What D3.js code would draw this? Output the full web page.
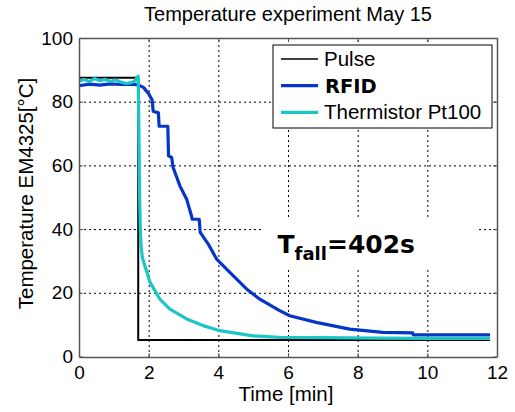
<!DOCTYPE html>
<html>
<head>
<meta charset="utf-8">
<script src="https://cdn.jsdelivr.net/npm/d3@7"></script>
<style>
  body { margin: 0; background: #fff; }
  text { font-family: "Liberation Sans", Arial, sans-serif; fill: #000; }
  .grid line { stroke: #000; stroke-width: 1; stroke-dasharray: 2,3; }
  .grid path { display: none; }
</style>
</head>
<body>
<div class="chart"></div>
<script>
// data (time in minutes, temperature in °C)
var pulseTime = [0, 1.7, 1.7, 11.8];
var pulseTemp = [87.5, 87.5, 5.2, 5.2];

var rfidTime = [0, 0.3, 0.6, 0.9, 1.2, 1.5, 1.7, 1.85, 2.0, 2.1, 2.13, 2.28, 2.30, 2.55, 2.57, 2.66, 2.70, 2.9, 3.09, 3.23, 3.25, 3.45, 3.48, 3.71, 3.95, 4.33, 4.81, 5.19, 5.76, 6.05, 6.81, 7.77, 8.72, 9.58, 9.6, 11.8];
var rfidTemp = [85.0, 85.5, 85.2, 85.6, 85.4, 85.5, 85.3, 84.5, 82.5, 80.5, 77, 76.5, 72.3, 72.3, 63, 62.5, 59.4, 53.5, 49.4, 44.1, 43.1, 43.1, 39, 35.3, 30.6, 26.4, 21.2, 18, 14.4, 12.8, 10.7, 8.6, 7.6, 7.4, 6.8, 6.8];

var thermTime = [0, 0.15, 0.3, 0.45, 0.6, 0.75, 0.9, 1.05, 1.2, 1.35, 1.5, 1.6, 1.7, 1.72, 1.74, 1.76, 1.78, 1.82, 1.89, 2.04, 2.32, 2.61, 3.09, 3.56, 4.04, 5.0, 5.76, 7, 8.5, 10, 11.8];
var thermTemp = [86.5, 87, 86.3, 87.3, 86.6, 87, 86.4, 86.8, 86.2, 85.7, 86.0, 86.5, 88, 70, 50, 40, 35, 31, 28.5, 23.3, 18, 14.9, 11.8, 9.7, 8.1, 6.5, 6.0, 5.9, 5.8, 5.7, 5.7];

var xTicks = [0, 2, 4, 6, 8, 10, 12];
var yTicks = [0, 20, 40, 60, 80, 100];
var seriesNames = ["Pulse", "RFID", "Thermistor Pt100"];
var seriesColors = ["#000000", "#0636c6", "#1cc6c6"];

var margin = {top: 38, right: 18, bottom: 55, left: 79}
  , width = 515 - margin.left - margin.right
  , height = 412 - margin.top - margin.bottom;

var xScale = d3.scaleLinear().domain([0, 12]).range([0, width]);
var yScale = d3.scaleLinear().domain([0, 100]).range([height - 0.5, 0]);

var svg = d3.select(".chart").append("svg")
    .attr("width", 515)
    .attr("height", 412)
  .append("g")
    .attr("transform", "translate(" + margin.left + "," + margin.top + ")");

// title
svg.append("text")
    .attr("x", width / 2)
    .attr("y", -17)
    .attr("text-anchor", "middle")
    .style("font-size", "20px")
    .text("Temperature experiment May 15");

// dotted grid
svg.append("g")
    .attr("class", "grid")
    .attr("transform", "translate(0," + height + ")")
    .call(d3.axisBottom(xScale).tickValues(xTicks.slice(1, -1)).tickSize(-height).tickFormat(""));
svg.append("g")
    .attr("class", "grid")
    .call(d3.axisLeft(yScale).tickValues(yTicks.slice(1, -1)).tickSize(-width).tickFormat(""));

// white box behind annotation
svg.append("rect")
    .attr("x", xScale(5.3)).attr("y", yScale(43))
    .attr("width", xScale(11.45) - xScale(5.3))
    .attr("height", yScale(28) - yScale(43))
    .attr("fill", "#fff");

// lines
var line = d3.line()
    .x(function(d) { return xScale(d[0]); })
    .y(function(d) { return yScale(d[1]); });

var series = [
  {t: pulseTime, v: pulseTemp, w: 2},
  {t: rfidTime, v: rfidTemp, w: 3.2},
  {t: thermTime, v: thermTemp, w: 3.2}
];
series.forEach(function(s, i) {
  svg.append("path")
      .datum(d3.zip(s.t, s.v))
      .attr("fill", "none")
      .attr("stroke", seriesColors[i])
      .attr("stroke-width", s.w)
      .attr("stroke-linejoin", "round")
      .attr("d", line);
});

// axes frame with inward ticks
function styleAxis(g) {
  g.select(".domain").attr("stroke", "#555").attr("stroke-width", 1.5);
  g.selectAll(".tick line").attr("stroke", "#555");
  g.selectAll(".tick text").style("font-size", "19px").attr("fill", "#000");
}
svg.append("g")
    .attr("transform", "translate(0," + height + ")")
    .call(d3.axisBottom(xScale).tickValues(xTicks).tickSizeInner(-4).tickSizeOuter(0).tickPadding(9))
    .call(styleAxis);
svg.append("g")
    .call(d3.axisLeft(yScale).tickValues(yTicks).tickSizeInner(-4).tickSizeOuter(0).tickPadding(6))
    .call(styleAxis);
svg.append("g")
    .call(d3.axisTop(xScale).tickValues(xTicks).tickSizeInner(-4).tickSizeOuter(0).tickFormat(""))
    .call(styleAxis);
svg.append("g")
    .attr("transform", "translate(" + width + ",0)")
    .call(d3.axisRight(yScale).tickValues(yTicks).tickSizeInner(-4).tickSizeOuter(0).tickFormat(""))
    .call(styleAxis);

// axis labels
svg.append("text")
    .attr("x", width / 2 - 2)
    .attr("y", height + 44)
    .attr("text-anchor", "middle")
    .style("font-size", "20.5px")
    .text("Time [min]");
svg.append("text")
    .attr("transform", "translate(" + (-46) + "," + (height / 2 - 4) + ") rotate(-90)")
    .attr("text-anchor", "middle")
    .style("font-size", "20.5px")
    .text("Temperature EM4325[°C]");

// annotation
var ann = svg.append("text")
    .attr("x", xScale(5.7))
    .attr("y", yScale(32.5))
    .style("font-family", "'DejaVu Sans', Verdana, sans-serif")
    .style("font-weight", "bold")
    .style("font-size", "25px");
ann.append("tspan").text("T");
ann.append("tspan").attr("dy", 7).style("font-size", "18px").text("fall");
ann.append("tspan").attr("dy", -7).text("=402s");

// legend
var legend = svg.append("g").attr("transform", "translate(" + (273 - margin.left) + "," + (45 - margin.top) + ")");
legend.append("rect")
    .attr("width", 219).attr("height", 83)
    .attr("fill", "#fff").attr("stroke", "#000").attr("stroke-width", 1);
seriesNames.forEach(function(name, i) {
  var y = 14 + i * 26.7;
  legend.append("line")
      .attr("x1", 8).attr("x2", 45).attr("y1", y).attr("y2", y)
      .attr("stroke", seriesColors[i])
      .attr("stroke-width", series[i].w === 2 ? 1.5 : 3.2);
  legend.append("text")
      .attr("x", name === "RFID" ? 52 : 51)
      .attr("y", y + 7)
      .style("font-size", name === "RFID" ? "19.5px" : "20.5px")
      .style("font-weight", name === "RFID" ? "bold" : "normal")
      .style("font-family", name === "RFID" ? "'DejaVu Sans', Verdana, sans-serif" : null)
      .text(name);
});
</script>
</body>
</html>
